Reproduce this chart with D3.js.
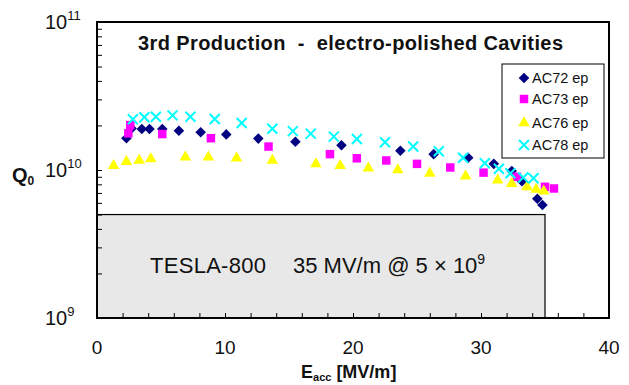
<!DOCTYPE html>
<html>
<head>
<meta charset="utf-8">
<script src="https://cdn.jsdelivr.net/npm/d3@7"></script>
<style>
body { margin: 0; background: #fff; }
text { font-family: Arial, "Liberation Sans", sans-serif; fill: #111; white-space: pre; }
</style>
</head>
<body>
<div class="plot"></div>
<script>
// data: Eacc [MV/m] and Q0 per cavity
var ac72E = [2.3, 2.7, 3.5, 4.1, 5.1, 6.4, 8.1, 10.1, 12.6, 15.5, 19.1, 23.7, 26.3, 29.0, 31.0, 32.4, 33.2, 34.4, 34.8];
var ac72Q = [1.64e10, 1.91e10, 1.89e10, 1.89e10, 1.89e10, 1.84e10, 1.80e10, 1.74e10, 1.63e10, 1.55e10, 1.47e10, 1.35e10, 1.28e10, 1.21e10, 1.10e10, 9.85e9, 8.4e9, 6.4e9, 5.8e9];

var ac73E = [2.45, 2.6, 5.1, 8.9, 13.4, 18.2, 20.3, 22.6, 25.0, 27.6, 30.2, 32.8, 35.0, 35.7];
var ac73Q = [1.77e10, 2.01e10, 1.75e10, 1.64e10, 1.44e10, 1.28e10, 1.20e10, 1.16e10, 1.10e10, 1.04e10, 9.6e9, 9.0e9, 7.7e9, 7.5e9];

var ac76E = [1.3, 2.3, 3.3, 4.2, 6.9, 8.7, 10.9, 13.7, 17.1, 19.0, 21.2, 23.5, 26.0, 28.8, 31.3, 32.4, 33.6, 34.3, 34.9];
var ac76Q = [1.07e10, 1.14e10, 1.16e10, 1.19e10, 1.22e10, 1.22e10, 1.20e10, 1.16e10, 1.10e10, 1.07e10, 1.03e10, 1.0e10, 9.5e9, 9.1e9, 8.55e9, 8.1e9, 7.7e9, 7.4e9, 7.2e9];

var ac78E = [2.8, 3.7, 4.6, 5.9, 7.3, 9.2, 11.3, 13.7, 15.3, 16.7, 18.5, 20.3, 22.5, 24.7, 26.7, 28.6, 30.3, 31.4, 32.3, 33.3, 34.1];
var ac78Q = [2.20e10, 2.27e10, 2.29e10, 2.34e10, 2.29e10, 2.21e10, 2.08e10, 1.90e10, 1.83e10, 1.76e10, 1.68e10, 1.62e10, 1.54e10, 1.44e10, 1.34e10, 1.21e10, 1.11e10, 1.02e10, 9.5e9, 8.9e9, 8.8e9];

var seriesNames = ["AC72 ep", "AC73 ep", "AC76 ep", "AC78 ep"];
var xTickLabels = [0, 10, 20, 30, 40];
var yDecades = [1e9, 1e10, 1e11];
var targetE = 35;
var targetQ = 5e9;

var svgWidth = 629;
var svgHeight = 385;

var margin = { top: 22, right: 20, bottom: 67, left: 97 };
var width = svgWidth - margin.left - margin.right;
var height = svgHeight - margin.top - margin.bottom;

var svg = d3.select(".plot")
    .append("svg")
    .attr("width", svgWidth)
    .attr("height", svgHeight);

var x = d3.scaleLinear().domain([0, 40]).range([margin.left, margin.left + width]);
var y = d3.scaleLog().domain([1e9, 1e11]).range([margin.top + height, margin.top]);

// grey target box
svg.append("rect")
    .attr("x", x(0))
    .attr("y", y(targetQ))
    .attr("width", x(targetE) - x(0))
    .attr("height", y(1e9) - y(targetQ))
    .attr("fill", "#e8e8e8")
    .attr("stroke", "#000")
    .attr("stroke-width", 1.2);

svg.append("text")
    .attr("x", x(0) + 53)
    .attr("y", 273)
    .attr("font-size", "22px")
    .attr("textLength", 116)
    .text("TESLA-800");

var tgt = svg.append("text")
    .attr("x", x(0) + 196)
    .attr("y", 273)
    .attr("font-size", "22px");
tgt.append("tspan").text(targetE + " MV/m @ 5 \u00d7 10");
tgt.append("tspan").attr("dy", -9).attr("font-size", "14px").text("9");

// inward ticks
var minorY = [];
[1e9, 1e10].forEach(function (d) {
    for (var k = 1; k <= 10; k++) minorY.push(d * k);
});
svg.append("g")
    .attr("transform", `translate(${x(0)},0)`)
    .call(d3.axisLeft(y).tickValues(minorY).tickSize(-5).tickFormat(""))
    .call(g => g.select(".domain").remove())
    .selectAll("line").attr("stroke", "#000");

svg.append("g")
    .attr("transform", `translate(0,${y(1e9)})`)
    .call(d3.axisBottom(x).tickValues(d3.range(0, 41, 2)).tickSize(-5).tickFormat(""))
    .call(g => g.select(".domain").remove())
    .selectAll("line").attr("stroke", "#000");

// frame
svg.append("rect")
    .attr("x", x(0))
    .attr("y", y(1e11))
    .attr("width", width)
    .attr("height", height)
    .attr("fill", "none")
    .attr("stroke", "#000")
    .attr("stroke-width", 2);

// tick labels
svg.selectAll(null)
    .data(xTickLabels)
    .enter()
    .append("text")
    .attr("x", d => x(d))
    .attr("y", 354)
    .attr("text-anchor", "middle")
    .attr("font-size", "19px")
    .text(d => d);

var yLab = svg.selectAll(null)
    .data(yDecades)
    .enter()
    .append("text")
    .attr("x", 45)
    .attr("y", d => y(d) + 7)
    .attr("font-size", "20px");
yLab.append("tspan").text("10");
yLab.append("tspan").attr("dy", -9).attr("font-size", "13px").text(d => Math.round(Math.log10(d)));

// axis titles
var xt = svg.append("text")
    .attr("x", 301)
    .attr("y", 378)
    .attr("font-size", "18px")
    .attr("font-weight", "bold");
xt.append("tspan").text("E");
xt.append("tspan").attr("dy", 3).attr("font-size", "11px").text("acc");
xt.append("tspan").attr("dy", -3).text(" [MV/m]");

var yt = svg.append("text")
    .attr("x", 12)
    .attr("y", 182)
    .attr("font-size", "20px")
    .attr("font-weight", "bold");
yt.append("tspan").text("Q");
yt.append("tspan").attr("dy", 3).attr("font-size", "12px").text("0");

svg.append("text")
    .attr("x", 138)
    .attr("y", 50)
    .attr("font-size", "20px")
    .attr("font-weight", "bold")
    .attr("textLength", 425)
    .text("3rd Production  -  electro-polished Cavities");

// markers
var diamond = d3.symbol().type(d3.symbolSquare).size(56)();
var square = d3.symbol().type(d3.symbolSquare).size(72)();
var triangle = d3.symbol().type(d3.symbolTriangle).size(58)();
var cross = "M-5,-5L5,5M-5,5L5,-5";

var series = [
    { name: seriesNames[0], e: ac72E, q: ac72Q, path: diamond, rot: 45, fill: "#000080", stroke: "none" },
    { name: seriesNames[1], e: ac73E, q: ac73Q, path: square, rot: 0, fill: "#ff00ff", stroke: "none" },
    { name: seriesNames[2], e: ac76E, q: ac76Q, path: triangle, rot: 0, fill: "#ffff00", stroke: "none" },
    { name: seriesNames[3], e: ac78E, q: ac78Q, path: cross, rot: 0, fill: "none", stroke: "#00ffff" }
];

series.forEach(function (s) {
    svg.append("g")
        .selectAll("path")
        .data(s.e.map((d, i) => [d, s.q[i]]))
        .enter()
        .append("path")
        .attr("d", s.path)
        .attr("transform", d => `translate(${x(d[0])},${y(d[1])}) rotate(${s.rot})`)
        .attr("fill", s.fill)
        .attr("stroke", s.stroke)
        .attr("stroke-width", 2);
});

// legend
var legend = svg.append("g").attr("transform", "translate(502,64)");
legend.append("rect")
    .attr("width", 102)
    .attr("height", 94)
    .attr("fill", "#fff")
    .attr("stroke", "#000")
    .attr("stroke-width", 1);

var legendY = [14, 35, 59, 81];
series.forEach(function (s, i) {
    legend.append("path")
        .attr("d", s.path)
        .attr("transform", `translate(22,${legendY[i]}) rotate(${s.rot})`)
        .attr("fill", s.fill)
        .attr("stroke", s.stroke)
        .attr("stroke-width", 2);
    legend.append("text")
        .attr("x", 30)
        .attr("y", legendY[i] + 5)
        .attr("font-size", "14.5px")
        .text(s.name);
});
</script>
</body>
</html>
